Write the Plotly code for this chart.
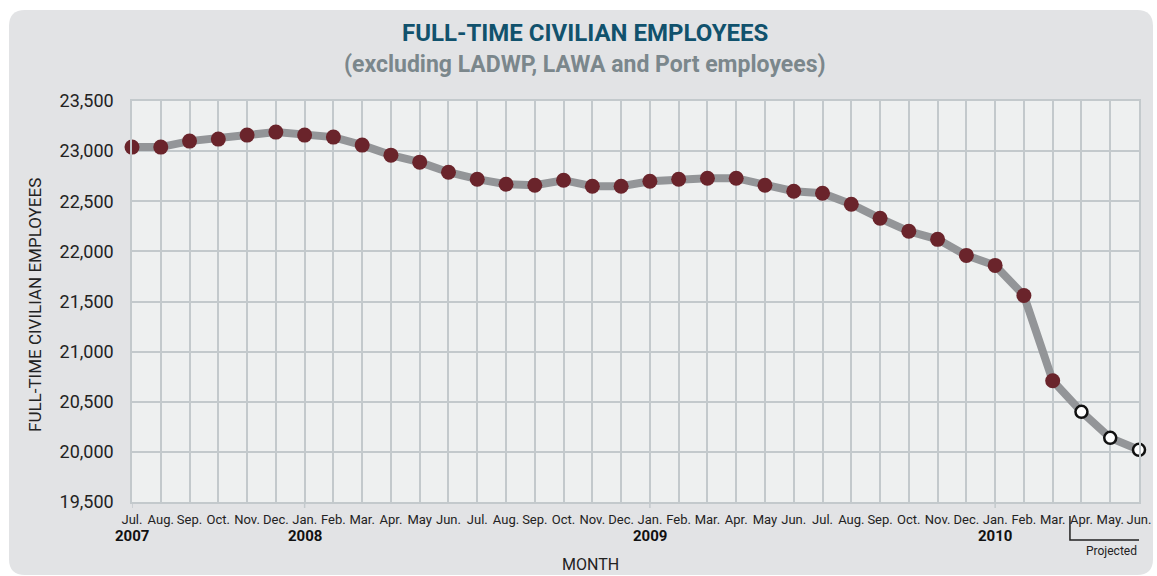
import plotly.graph_objects as go

months = ["Jul.", "Aug.", "Sep.", "Oct.", "Nov.", "Dec.", "Jan.", "Feb.", "Mar.", "Apr.", "May", "Jun.",
          "Jul.", "Aug.", "Sep.", "Oct.", "Nov.", "Dec.", "Jan.", "Feb.", "Mar.", "Apr.", "May", "Jun.",
          "Jul.", "Aug.", "Sep.", "Oct.", "Nov.", "Dec.", "Jan.", "Feb.", "Mar.", "Apr.", "May.", "Jun."]
actual = [23040, 23040, 23100, 23120, 23160, 23190, 23160, 23140, 23060, 22960, 22890, 22790,
          22720, 22670, 22660, 22710, 22650, 22650, 22700, 22720, 22730, 22730, 22660, 22600,
          22580, 22470, 22330, 22200, 22120, 21960, 21860, 21560, 20710]
projected = [20400, 20140, 20020]
year_labels = ["2007", "2008", "2009", "2010"]
year_idx = [0, 6, 18, 30]

x_all = list(range(len(months)))
values = actual + projected
n_act = len(actual)

FONT = "Roboto, Liberation Sans, sans-serif"

fig = go.Figure()
fig.add_trace(go.Scatter(x=x_all, y=values, mode="lines",
                         line=dict(color="#939598", width=8), hoverinfo="skip", cliponaxis=False))
fig.add_trace(go.Scatter(x=x_all[:n_act], y=actual, mode="markers",
                         marker=dict(color="#6a242b", size=15, line=dict(width=0)), cliponaxis=False))
fig.add_trace(go.Scatter(x=x_all[n_act:], y=projected, mode="markers",
                         marker=dict(color="white", size=12, line=dict(color="#111111", width=2.5)),
                         cliponaxis=False))

# geometry in page pixels (body margin removed by post_script)
W, H = 1157, 576
PL, PR, PT, PB = 132, 1139, 101, 502
L, T, R, B = PL, PT, W - PR, H - PB
pw, ph = PR - PL, PB - PT

def px(x):
    return (x - PL) / pw

def py(y):
    return (PB - y) / ph

# rounded background panel
x0, x1, y0, y1, r = px(9), px(1153), py(10), py(575), 16
rx, ry = r / pw, r / ph
path = (f"M {x0+rx} {y0} L {x1-rx} {y0} Q {x1} {y0} {x1} {y0-ry} "
        f"L {x1} {y1+ry} Q {x1} {y1} {x1-rx} {y1} L {x0+rx} {y1} Q {x0} {y1} {x0} {y1+ry} "
        f"L {x0} {y0-ry} Q {x0} {y0} {x0+rx} {y0} Z")
shapes = [
    dict(type="path", xref="paper", yref="paper", path=path, fillcolor="#e2e3e5",
         line=dict(width=0), layer="below"),
    dict(type="rect", xref="paper", yref="paper", x0=0, x1=1, y0=0, y1=1, fillcolor="#eef0f0",
         line=dict(width=0), layer="below"),
]
# year tick marks below the axis
for i in year_idx:
    shapes.append(dict(type="line", xref="x", yref="paper", x0=i, x1=i, y0=0, y1=py(508),
                       line=dict(color="#c3c9cc", width=1.5)))
# projected bracket
bl, br = n_act - 0.4, len(months) - 0.5
by_top, by_bot = py(516), py(540)
shapes.append(dict(type="path", xref="x", yref="paper",
                   path=f"M {bl} {by_top} L {bl} {by_bot} L {br} {by_bot} L {br} {by_top}",
                   line=dict(color="#222222", width=1.5)))

def ann(text, x, y, size, color="#222222", xref="paper", **kw):
    return dict(text=text, xref=xref, yref="paper", x=x, y=y, showarrow=False,
                xanchor="center", yanchor="middle",
                font=dict(family=FONT, size=size, color=color), **kw)

annotations = [
    ann("<b>FULL-TIME CIVILIAN EMPLOYEES</b>", px(585), py(33), 24, "#11526d"),
    ann("<b>(excluding LADWP, LAWA and Port employees)</b>", px(585), py(64), 23, "#7b878c"),
    ann("FULL-TIME CIVILIAN EMPLOYEES", px(35), py(305), 17, textangle=-90),
    ann("MONTH", px(590), py(564), 16),
    ann("Projected", (bl + br) / 2, py(551), 12, xref="x"),
]
for lab, i in zip(year_labels, year_idx):
    annotations.append(ann(f"<b>{lab}</b>", i, py(536), 15, "#111111", xref="x"))

fig.update_layout(
    width=W, height=H, margin=dict(l=L, r=R, t=T, b=B, pad=0, autoexpand=False),
    paper_bgcolor="white", plot_bgcolor="rgba(0,0,0,0)", showlegend=False,
    shapes=shapes, annotations=annotations,
    xaxis=dict(range=[0, len(months) - 1], tickmode="array", tickvals=x_all, ticktext=months,
               tickangle=0, ticklabeloverflow="allow", automargin=False,
               showgrid=True, gridcolor="#c3c9cc", gridwidth=1.5, zeroline=False,
               showline=True, linecolor="#c3c9cc", linewidth=1.5, mirror=True,
               ticks="", tickfont=dict(family=FONT, size=13, color="#222222"), ticklabelstandoff=5),
    yaxis=dict(range=[19500, 23500], dtick=500, tick0=19500, tickformat=",d", automargin=False,
               showgrid=True, gridcolor="#c3c9cc", gridwidth=1.5, zeroline=False,
               showline=True, linecolor="#c3c9cc", linewidth=1.5, mirror=True,
               ticks="", tickfont=dict(family=FONT, size=18, color="#222222"), ticklabelstandoff=13),
)

fig.write_html("out.html", config={"displayModeBar": False},
               post_script="document.body.style.margin='0';document.body.style.overflow='hidden';")
